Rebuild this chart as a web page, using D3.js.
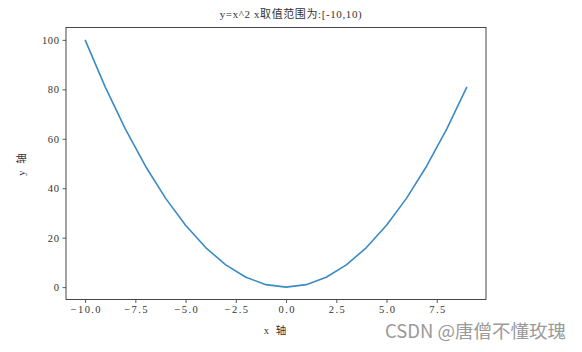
<!DOCTYPE html>
<html><head><meta charset="utf-8">
<script src="https://cdn.jsdelivr.net/npm/d3@7"></script>
<style>body{margin:0;background:#fff;}svg{display:block;}</style>
</head><body>
<script>
const xValues = [-10,-9,-8,-7,-6,-5,-4,-3,-2,-1,0,1,2,3,4,5,6,7,8,9];
const yValues = [100,81,64,49,36,25,16,9,4,1,0,1,4,9,16,25,36,49,64,81];
const xTicks = [-10,-7.5,-5,-2.5,0,2.5,5,7.5];
const yTicks = [0,20,40,60,80,100];
const titleText = "y=x^2 x取值范围为:[-10,10)";
const xLabel = "x 轴";
const yLabel = "y 轴";
const watermark = "CSDN @唐僧不懂玫瑰";

const W = 582, H = 352;
const L = 66, R = 486, T = 27.5, B = 299.5;
const font = "'Liberation Serif','DejaVu Serif','Noto Sans CJK SC',serif";
const svg = d3.select("body").append("svg").attr("width", W).attr("height", H);

const x = d3.scaleLinear().domain([-10.95, 9.95]).range([L, R]);
const y = d3.scaleLinear().domain([-5, 105]).range([B, T]);

const line = d3.line().x((d,i)=>x(xValues[i])).y(d=>y(d));
svg.append("path").datum(yValues).attr("d", line)
  .attr("fill","none").attr("stroke","#3a8bc4").attr("stroke-width",1.6)
  .attr("stroke-linejoin","round");

const xa = svg.append("g").attr("transform",`translate(0,${B})`)
  .call(d3.axisBottom(x).tickValues(xTicks).tickSize(3.5).tickPadding(3)
    .tickFormat(d=>d3.format(".1f")(d).replace("-","\u2212")));
const ya = svg.append("g").attr("transform",`translate(${L},0)`)
  .call(d3.axisLeft(y).tickValues(yTicks).tickSize(3.5).tickPadding(3));
[xa,ya].forEach(a=>{
  a.select(".domain").remove();
  a.selectAll("line").attr("stroke","#333").attr("stroke-width",0.8);
  a.selectAll("text").attr("font-family",font).attr("font-size",10.5).attr("fill","#333");
});
xa.selectAll("text").attr("letter-spacing",1.4).attr("dx",0.7);
ya.selectAll("text").attr("letter-spacing",0.6);

svg.append("rect").attr("x",L).attr("y",T).attr("width",R-L).attr("height",B-T)
  .attr("fill","none").attr("stroke","#333").attr("stroke-width",0.9);

svg.append("text").attr("x",(L+R)/2+15).attr("y",T-10).attr("text-anchor","middle")
  .attr("font-family",font).attr("font-size",11).attr("letter-spacing",0.6).attr("fill","#333").text(titleText);
svg.append("text").attr("x",(L+R)/2).attr("y",334).attr("text-anchor","middle")
  .attr("font-family",font).attr("font-size",10.5).attr("letter-spacing",2).attr("fill","#333").text(xLabel);
svg.append("text").attr("transform",`translate(25,${(T+B)/2}) rotate(-90)`).attr("text-anchor","middle")
  .attr("font-family",font).attr("font-size",10.5).attr("letter-spacing",2).attr("fill","#333").text(yLabel);

svg.append("text").attr("x",566).attr("y",338).attr("text-anchor","end")
  .attr("font-family","'Noto Sans CJK SC','Noto Sans',sans-serif").attr("font-size",18.5)
  .attr("fill","#9a9a9a").text(watermark);
</script>
</body></html>
